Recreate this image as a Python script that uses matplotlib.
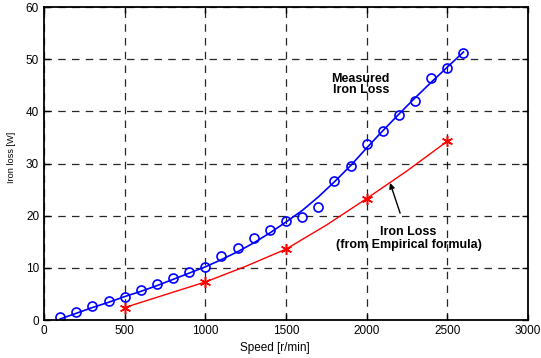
import numpy as np
import matplotlib.pyplot as plt

# measured iron loss (circles)
speed_meas = [100, 200, 300, 400, 500, 600, 700, 800, 900, 1000, 1100, 1200, 1300,
              1400, 1500, 1600, 1700, 1800, 1900, 2000, 2100, 2200, 2300, 2400, 2500, 2600]
loss_meas = [0.6, 1.5, 2.6, 3.6, 4.5, 5.8, 7.0, 8.0, 9.2, 10.2, 12.2, 13.9, 15.8,
             17.3, 18.9, 19.8, 21.7, 26.7, 29.5, 33.7, 36.2, 39.3, 42.0, 46.4, 48.3, 51.3]

# fitted curve through measured data
speed_fit = [100, 200, 300, 400, 500, 600, 700, 800, 900, 1000, 1100, 1200, 1300,
             1400, 1500, 1600, 1700, 1800, 1900, 2000, 2100, 2200, 2300, 2400, 2500, 2600]
loss_fit = [0.2, 1.3, 2.4, 3.4, 4.5, 5.5, 6.6, 7.8, 9.0, 10.2, 11.6, 13.1, 14.8,
            16.7, 18.8, 21.0, 23.6, 26.5, 29.6, 33.0, 36.3, 39.5, 42.6, 45.6, 48.5, 51.4]

# empirical formula points (stars) and its curve
speed_emp = [500, 1000, 1500, 2000, 2500]
loss_emp = [2.4, 7.3, 13.6, 23.3, 34.3]
speed_emp_line = [500, 1000, 1250, 1500, 1750, 2000, 2250, 2500]
loss_emp_line = [2.4, 7.3, 10.3, 13.6, 18.2, 23.3, 28.6, 34.3]

plt.rcParams['font.family'] = ['Liberation Sans', 'DejaVu Sans']

fig = plt.figure(figsize=(5.41, 3.58), dpi=100)
ax = fig.add_axes([0.0813, 0.106, 0.8947, 0.874])

ax.plot(speed_fit, loss_fit, 'b-', linewidth=1.2)
ax.plot(speed_meas, loss_meas, 'o', mfc='none', mec='b', markersize=6.5, mew=1.2)
ax.plot(speed_emp_line, loss_emp_line, 'r-', linewidth=1.0)
ax.plot(speed_emp, loss_emp, linestyle='none', marker=(6, 2, 0), color='r',
        markersize=8, mew=1.1)

ax.set_xlim(0, 3000)
ax.set_ylim(0, 60)
ax.set_xticks(np.arange(0, 3001, 500))
ax.set_yticks(np.arange(0, 61, 10))
ax.grid(True, color='k', linestyle=(0, (6, 5)), linewidth=0.9, alpha=0.85)
ax.tick_params(direction='in', top=True, right=True, labelsize=8.5, length=4, width=1)
for s in ax.spines.values():
    s.set_linewidth(1.3)

ax.set_xlabel('Speed [r/min]', fontsize=8.5)
ax.xaxis.set_label_coords(0.477, -0.07)
ax.set_ylabel('Iron loss [W]', fontsize=6.6)
ax.yaxis.set_label_coords(-0.058, 0.52)

ax.text(1963, 45.2, 'Measured\nIron Loss', fontsize=9, fontweight='bold',
        ha='center', va='center', linespacing=0.95)
ax.annotate('Iron Loss\n(from Empirical formula)', xy=(2145, 26.3), xytext=(2260, 15.6),
            fontsize=9, fontweight='bold', ha='center', va='center', linespacing=1.05,
            arrowprops=dict(arrowstyle='-|>', color='k', lw=1.0, shrinkA=8, shrinkB=0,
                            mutation_scale=8))

fig.savefig('out.png', dpi=100)
